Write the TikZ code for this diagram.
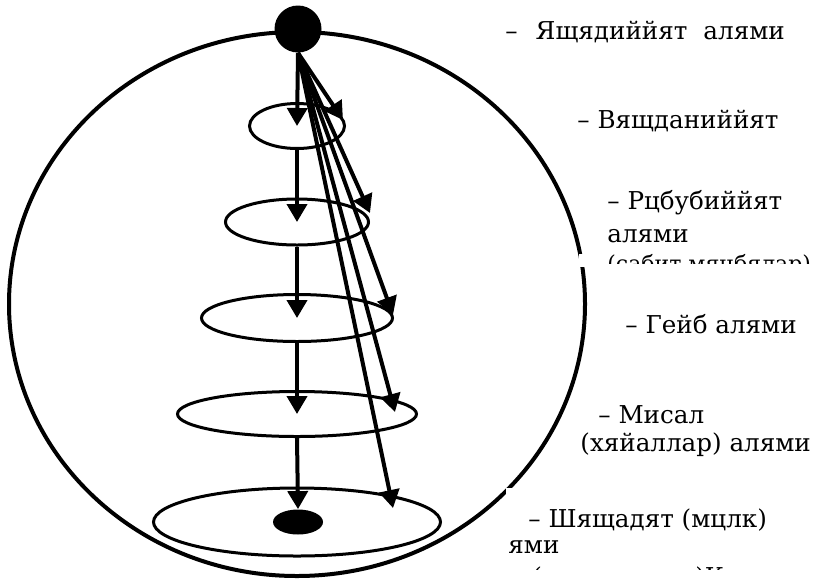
\documentclass[tikz,border=0pt]{standalone}
\usepackage{fontspec}
\setmainfont{DejaVu Serif}
\usetikzlibrary{shapes.geometric,arrows.meta}

\begin{document}
\begin{tikzpicture}[x=0.5pt,y=-0.5pt,
  level/.style={ellipse,draw,line width=1.5pt,inner sep=0pt},
  arr/.style={line width=2pt,-{Triangle[length=9pt,width=10pt]}},
  lbl/.style={anchor=base west,inner sep=0pt,font=\fontsize{12.3}{14}\selectfont}]
\useasboundingbox (0,0) rectangle (818,584);

% outer world
\node[ellipse,draw,line width=2pt,inner sep=0pt,minimum width=288pt,minimum height=272pt] (world) at (297,304) {};
\fill[white] (579,254) rectangle (592,267);
\fill[white] (506,488) rectangle (516,497);

% levels
\node[level,minimum width=47.5pt,minimum height=22.5pt] (e1) at (297,126) {};
\node[level,minimum width=71.5pt,minimum height=23pt] (e2) at (297,222) {};
\node[level,minimum width=95.5pt,minimum height=23.5pt] (e3) at (297,318) {};
\node[level,minimum width=119.5pt,minimum height=22.5pt] (e4) at (297,414) {};
\node[level,minimum width=143.5pt,minimum height=34pt] (e5) at (297,522) {};
\node[circle,fill,minimum size=23.5pt,inner sep=0pt] (top) at (298,29) {};
\node[ellipse,fill,minimum width=25pt,minimum height=12.5pt,inner sep=0pt] (bottom) at (298,522) {};

\draw[arr] (top.south) -- (e1.center);
\draw[arr] (e1.south) -- (e2.center);
\draw[arr] (e2.south) -- (e3.center);
\draw[arr] (e3.south) -- (e4.center);
\draw[arr] (e4.south) -- (bottom.north);

\coordinate (t1) at (343,120);
\coordinate (t2) at (370,213);
\coordinate (t3) at (393,315);
\coordinate (t4) at (395,412);
\coordinate (t5) at (393,508);
\foreach \i in {1,...,5}
  \draw[arr] (top.south) -- (t\i);

% labels
\node[lbl] (l1) at (505,39) {–\hskip 9pt Ящядиййят\hskip 8pt алями};
\node[lbl] (l2) at (577,128) {– Вящданиййят};
\node[lbl] (l3a) at (607,209) {– Рцбубиййят};
\node[lbl] (l3b) at (607,242) {алями};
\begin{scope}
  \clip (600,240) rectangle (818,263);
  \node[lbl,font=\fontsize{11}{13}\selectfont] (l3c) at (607,271) {(сабит мянбялар)};
\end{scope}
\node[lbl] (l4) at (625,333) {– Гейб алями};
\node[lbl] (l5a) at (598,423) {– Мисал};
\node[lbl] (l5b) at (580,451) {(хяйаллар) алями};
\node[lbl] (l6a) at (528,527) {– Шящадят (мцлк)};
\node[lbl] (l6b) at (508,553) {ями};
\begin{scope}
  \clip (500,555) rectangle (818,569);
  \node[lbl] (l6c) at (532,585) {(мадди алям)Кяинат};
\end{scope}
\end{tikzpicture}
\end{document}
